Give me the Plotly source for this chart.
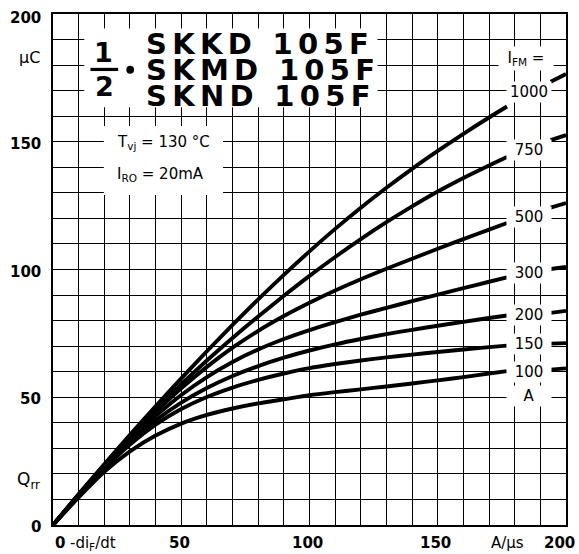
import plotly.graph_objects as go

# ---------------- data ----------------
X_LEFT = [0, 10, 20, 30, 40, 50, 60, 70, 80, 90, 100, 110, 120, 130, 140, 150, 160, 170, 177]
X_RIGHT = [194, 200]

I_FM = ["1000", "750", "500", "300", "200", "150", "100"]

Q_1000 = [0, 12, 23.8, 35.3, 46.5, 57.4, 68, 78.3, 88.3, 97.9, 107.1, 115.9, 124.2, 132, 139.4, 146.4, 153.1, 159.5, 163.8]
Q_750 = [0, 12, 23.6, 34.7, 45.2, 55.1, 64.4, 73.2, 81.6, 89.7, 97.5, 104.9, 111.9, 118.5, 124.7, 130.5, 135.8, 140.7, 144]
Q_500 = [0, 11.8, 23.2, 34.1, 44.2, 53.5, 61.9, 69.4, 76, 81.8, 87, 91.8, 96.2, 100.3, 104.2, 108.1, 111.9, 115.6, 118.2]
Q_300 = [0, 11.6, 22.8, 33.2, 42.6, 50.9, 57.9, 63.8, 68.7, 72.8, 76.3, 79.4, 82.3, 85, 87.6, 90.2, 92.7, 95.2, 96.9]
Q_200 = [0, 11.4, 22.4, 32.4, 40.9, 47.9, 53.6, 58.3, 62.2, 65.5, 68.3, 70.7, 72.8, 74.7, 76.4, 78, 79.5, 81, 82]
Q_150 = [0, 11.2, 22, 31.5, 39.3, 45.4, 50.1, 53.8, 56.8, 59.3, 61.4, 63, 64.4, 65.6, 66.7, 67.7, 68.7, 69.6, 70.2]
Q_100 = [0, 10.8, 20.8, 28.8, 35, 39.7, 43.1, 45.6, 47.6, 49.2, 50.8, 52, 53.1, 54.2, 55.4, 56.6, 57.9, 59.3, 60.2]

Q_1000_R = [173.5, 176.5]
Q_750_R = [150.6, 152.6]
Q_500_R = [124.2, 126]
Q_300_R = [100.2, 101]
Q_200_R = [83, 83.8]
Q_150_R = [71, 71.2]
Q_100_R = [60.8, 61.3]

LEFT = [Q_1000, Q_750, Q_500, Q_300, Q_200, Q_150, Q_100]
RIGHT = [Q_1000_R, Q_750_R, Q_500_R, Q_300_R, Q_200_R, Q_150_R, Q_100_R]

# label positions of the I_FM values (y in µC)
LABEL_Y = [169.3, 146.9, 120.7, 98.5, 82.2, 71.0, 59.9]

X_TICKS = [0, 50, 100, 150, 200]
Y_TICKS = [0, 50, 100, 150, 200]

FONT = "DejaVu Sans"

fig = go.Figure()

for yl, yr in zip(LEFT, RIGHT):
    fig.add_trace(go.Scatter(
        x=X_LEFT + [None] + X_RIGHT,
        y=yl + [None] + yr,
        mode="lines",
        line=dict(color="black", width=3.9, shape="spline", smoothing=0.8),
        connectgaps=False,
        showlegend=False,
        hoverinfo="skip",
    ))

fig.update_xaxes(
    range=[0, 200], dtick=10, tick0=0,
    showgrid=True, gridcolor="black", gridwidth=1.4,
    showline=True, linecolor="black", linewidth=2, mirror=True,
    zeroline=False, showticklabels=False, ticks="",
)
fig.update_yaxes(
    range=[0, 200], dtick=10, tick0=0,
    showgrid=True, gridcolor="black", gridwidth=1.4,
    showline=True, linecolor="black", linewidth=2, mirror=True,
    zeroline=False, showticklabels=False, ticks="",
)

shapes = []
# white boxes for the title block and the parameter block
shapes.append(dict(type="rect", xref="x", yref="y", x0=12.2, x1=126.5, y0=163.5, y1=194.3,
                   fillcolor="white", line=dict(width=0), layer="above"))
shapes.append(dict(type="rect", xref="x", yref="y", x0=19.8, x1=66.3, y0=129.2, y1=156.2,
                   fillcolor="white", line=dict(width=0), layer="above"))
# fraction bar and dot
shapes.append(dict(type="line", xref="x", yref="y", x0=14.6, x1=25.4, y0=178.3, y1=178.3,
                   line=dict(color="black", width=3.2), layer="above"))
shapes.append(dict(type="circle", xref="x", yref="y", x0=28.6, x1=31.6, y0=176.6, y1=179.7,
                   fillcolor="black", line=dict(width=0), layer="above"))

ann = []
# y tick labels
for v in Y_TICKS:
    ann.append(dict(xref="paper", yref="y", x=0, y=v, xanchor="right", yanchor="middle",
                    xshift=-10, yshift=(-4 if v == 200 else -2), text=str(v), showarrow=False,
                    font=dict(family=FONT, size=15, color="black", weight="bold")))
# x tick labels
for v in X_TICKS:
    if v == 0:
        ann.append(dict(xref="x", yref="paper", x=0, y=0, xanchor="left", yanchor="middle",
                        xshift=0, yshift=-18, text="0", showarrow=False,
                        font=dict(family=FONT, size=15, color="black", weight="bold")))
    elif v == 200:
        ann.append(dict(xref="x", yref="paper", x=v, y=0, xanchor="center", yanchor="middle",
                        xshift=-7, yshift=-18, text=str(v), showarrow=False,
                        font=dict(family=FONT, size=15, color="black", weight="bold")))
    else:
        ann.append(dict(xref="x", yref="paper", x=v, y=0, xanchor="center", yanchor="middle",
                        xshift=-2, yshift=-18, text=str(v), showarrow=False,
                        font=dict(family=FONT, size=15, color="black", weight="bold")))
# axis unit labels
ann.append(dict(xref="paper", yref="paper", x=0, y=0, xanchor="left", yanchor="middle",
                xshift=15, yshift=-18, text="-di<sub>F</sub>/dt", showarrow=False,
                font=dict(family=FONT, size=15, color="black")))
ann.append(dict(xref="x", yref="paper", x=177, y=0, xanchor="center", yanchor="middle",
                yshift=-18, text="A/µs", showarrow=False,
                font=dict(family=FONT, size=15, color="black")))
ann.append(dict(xref="paper", yref="y", x=0, y=182.8, xanchor="right", yanchor="middle",
                xshift=-11, text="µC", showarrow=False,
                font=dict(family=FONT, size=16, color="black")))
ann.append(dict(xref="paper", yref="y", x=0, y=17.5, xanchor="right", yanchor="middle",
                xshift=-11, text="Q<sub>rr</sub>", showarrow=False,
                font=dict(family=FONT, size=17, color="black")))

# title block
ann.append(dict(xref="x", yref="y", x=19.8, y=185.0, xanchor="center", yanchor="middle",
                text="1", showarrow=False, height=24,
                font=dict(family=FONT, size=27, color="black", weight="bold")))
ann.append(dict(xref="x", yref="y", x=20.1, y=172.0, xanchor="center", yanchor="middle",
                text="2", showarrow=False, height=24,
                font=dict(family=FONT, size=27, color="black", weight="bold")))
for txt, yy in zip(["SKKD 105F", "SKMD 105F", "SKND 105F"], [188.4, 178.2, 168.0]):
    ann.append(dict(xref="x", yref="y", x=35.4, y=yy, xanchor="left", yanchor="middle",
                    text='<span style="letter-spacing:5.3px">' + txt + '</span>', showarrow=False,
                    height=24,
                    font=dict(family=FONT, size=29, color="black", weight="bold")))

# parameter block
ann.append(dict(xref="x", yref="y", x=24.0, y=149.8, xanchor="left", yanchor="middle",
                text="T<sub>vj</sub> = 130 °C", showarrow=False,
                font=dict(family=FONT, size=15, color="black")))
ann.append(dict(xref="x", yref="y", x=24.0, y=137.0, xanchor="left", yanchor="middle",
                text="I<sub>RO</sub> = 20mA", showarrow=False,
                font=dict(family=FONT, size=15, color="black")))

# I_FM labels
ann.append(dict(xref="x", yref="y", x=184.3, y=182.5, xanchor="center", yanchor="middle",
                text="I<sub>FM</sub> =", showarrow=False, bgcolor="white", width=50, borderpad=2,
                font=dict(family=FONT, size=15, color="black")))
for lab, yy in zip(I_FM, LABEL_Y):
    ann.append(dict(xref="x", yref="y", x=185.6, y=yy, xanchor="center", yanchor="middle",
                    text=lab, showarrow=False, bgcolor="white", width=42, borderpad=1,
                    font=dict(family=FONT, size=15, color="black")))
ann.append(dict(xref="x", yref="y", x=185.6, y=50.5, xanchor="center", yanchor="middle",
                text="A", showarrow=False, bgcolor="white", width=42, borderpad=1,
                font=dict(family=FONT, size=15, color="black")))

fig.update_layout(
    width=579, height=554,
    margin=dict(l=53, r=13, t=14, b=29),
    paper_bgcolor="white", plot_bgcolor="white",
    shapes=shapes, annotations=ann,
    showlegend=False,
)

fig.write_html("out.html")
